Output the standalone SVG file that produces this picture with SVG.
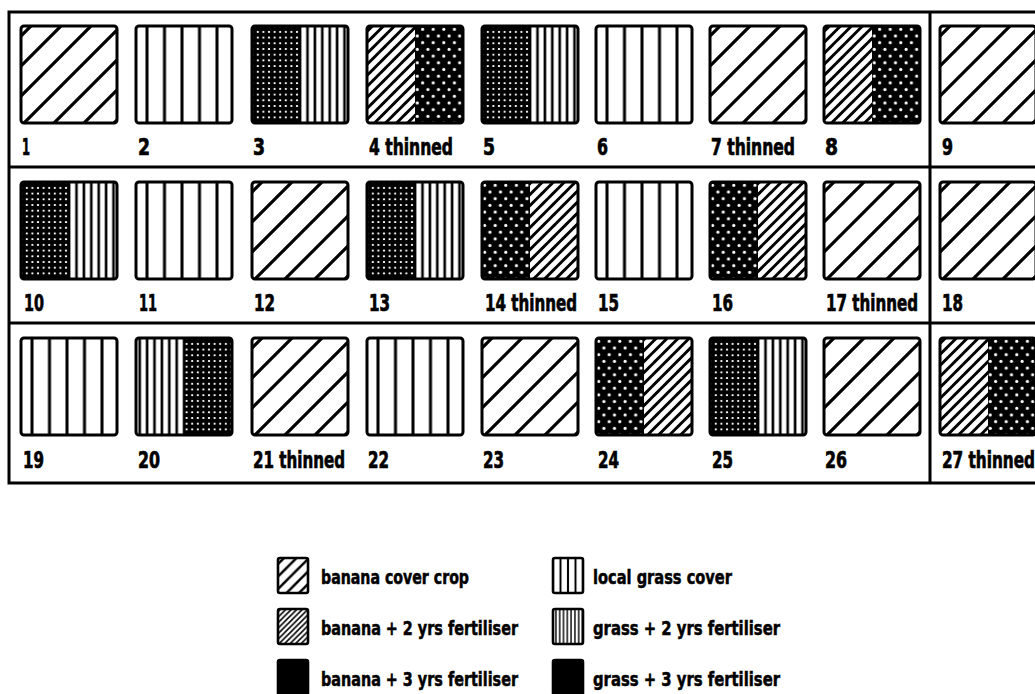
<svg xmlns="http://www.w3.org/2000/svg" width="1035" height="694" viewBox="0 0 1035 694">
<style>
.box{fill:none;stroke:#000;stroke-width:3;}
.lbox{fill:none;stroke:#000;stroke-width:2.6;}
.frame{fill:none;stroke:#000;stroke-width:3;}
.lab{font-family:"DejaVu Sans Condensed","DejaVu Sans",sans-serif;font-weight:bold;font-size:23px;fill:#000;stroke:#000;stroke-width:0.7px;}
.leg{font-family:"DejaVu Sans Condensed","DejaVu Sans",sans-serif;font-weight:bold;font-size:19px;fill:#000;stroke:#000;stroke-width:0.5px;}
</style>
<defs>
<pattern id="pB" patternUnits="userSpaceOnUse" width="30" height="30">
<path d="M-4,14 L14,-4 M-4,44 L44,-4" stroke="#000" stroke-width="3.2"/>
</pattern>
<pattern id="pB2" patternUnits="userSpaceOnUse" width="11" height="11">
<path d="M-3,8.5 L8.5,-3 M-3,19.5 L19.5,-3" stroke="#000" stroke-width="3"/>
</pattern>
<pattern id="pB3" patternUnits="userSpaceOnUse" width="10.6" height="13.4">
<rect width="10.6" height="13.4" fill="#000"/>
<circle cx="2.6" cy="3.3" r="1.6" fill="#fff"/>
<circle cx="7.9" cy="10" r="1.6" fill="#fff"/>
</pattern>
<pattern id="pG" patternUnits="userSpaceOnUse" x="2.25" width="17.5" height="20">
<rect x="7.25" width="3" height="20" fill="#000"/>
</pattern>
<pattern id="pG2" patternUnits="userSpaceOnUse" width="7.4" height="10">
<rect x="2.4" width="2.6" height="10" fill="#000"/>
</pattern>
<pattern id="pG3" patternUnits="userSpaceOnUse" x="3" y="3" width="5.6" height="5.7">
<rect width="5.6" height="5.7" fill="#000"/>
<rect x="1.8" y="2" width="2" height="1.8" fill="#fff"/>
</pattern>
<pattern id="pLB" patternUnits="userSpaceOnUse" width="12.5" height="12.5">
<path d="M-3,9 L9,-3 M-3,21.5 L21.5,-3" stroke="#000" stroke-width="2.5"/>
</pattern>
<pattern id="pLB2" patternUnits="userSpaceOnUse" width="5.5" height="5.5">
<path d="M-2,4.75 L4.75,-2 M-2,10.25 L10.25,-2" stroke="#000" stroke-width="1.6"/>
</pattern>
<pattern id="pLG" patternUnits="userSpaceOnUse" x="3.75" width="7.5" height="10">
<rect x="2.75" width="2" height="10" fill="#000"/>
</pattern>
<pattern id="pLG2" patternUnits="userSpaceOnUse" x="1" width="3.8" height="10">
<rect x="1.2" width="1.4" height="10" fill="#000"/>
</pattern>
</defs>
<rect width="1035" height="694" fill="#fff"/>

<g id="frame">
<path class="frame" d="M1045,12 H9 V483 H1045 M9,167 H1045 M9,323 H1045 M930,12 V483"/>
</g>

<!-- Row 1 -->
<g id="cell-1" transform="translate(21,26)">
<rect width="96" height="97" fill="url(#pB)"/>
<rect class="box" width="96" height="97" rx="3"/>
<text class="lab" x="1" y="129" textLength="8" lengthAdjust="spacingAndGlyphs">1</text>
</g>
<g id="cell-2" transform="translate(136,26)">
<rect width="96" height="97" fill="url(#pG)"/>
<rect class="box" width="96" height="97" rx="3"/>
<text class="lab" x="2" y="129" textLength="12" lengthAdjust="spacingAndGlyphs">2</text>
</g>
<g id="cell-3" transform="translate(252,26)">
<rect width="48" height="97" fill="url(#pG3)"/>
<rect x="48" width="48" height="97" fill="url(#pG2)"/>
<rect class="box" width="96" height="97" rx="3"/>
<text class="lab" x="1" y="129" textLength="12" lengthAdjust="spacingAndGlyphs">3</text>
</g>
<g id="cell-4" transform="translate(367,26)">
<rect width="48" height="97" fill="url(#pB2)"/>
<rect x="48" width="48" height="97" fill="url(#pB3)"/>
<rect class="box" width="96" height="97" rx="3"/>
<text class="lab" x="2" y="129" textLength="84" lengthAdjust="spacingAndGlyphs">4 thinned</text>
</g>
<g id="cell-5" transform="translate(482,26)">
<rect width="48" height="97" fill="url(#pG3)"/>
<rect x="48" width="48" height="97" fill="url(#pG2)"/>
<rect class="box" width="96" height="97" rx="3"/>
<text class="lab" x="1" y="129" textLength="12" lengthAdjust="spacingAndGlyphs">5</text>
</g>
<g id="cell-6" transform="translate(596,26)">
<rect width="96" height="97" fill="url(#pG)"/>
<rect class="box" width="96" height="97" rx="3"/>
<text class="lab" x="1" y="129" textLength="11" lengthAdjust="spacingAndGlyphs">6</text>
</g>
<g id="cell-7" transform="translate(710,26)">
<rect width="96" height="97" fill="url(#pB)"/>
<rect class="box" width="96" height="97" rx="3"/>
<text class="lab" x="1" y="129" textLength="84" lengthAdjust="spacingAndGlyphs">7 thinned</text>
</g>
<g id="cell-8" transform="translate(824,26)">
<rect width="48" height="97" fill="url(#pB2)"/>
<rect x="48" width="48" height="97" fill="url(#pB3)"/>
<rect class="box" width="96" height="97" rx="3"/>
<text class="lab" x="1" y="129" textLength="13" lengthAdjust="spacingAndGlyphs">8</text>
</g>
<g id="cell-9" transform="translate(940,26)">
<rect width="96" height="97" fill="url(#pB)"/>
<rect class="box" width="96" height="97" rx="3"/>
<text class="lab" x="2" y="129" textLength="11" lengthAdjust="spacingAndGlyphs">9</text>
</g>

<!-- Row 2 -->
<g id="cell-10" transform="translate(21,182)">
<rect width="48" height="97" fill="url(#pG3)"/>
<rect x="48" width="48" height="97" fill="url(#pG2)"/>
<rect class="box" width="96" height="97" rx="3"/>
<text class="lab" x="3" y="129" textLength="20" lengthAdjust="spacingAndGlyphs">10</text>
</g>
<g id="cell-11" transform="translate(136,182)">
<rect width="96" height="97" fill="url(#pG)"/>
<rect class="box" width="96" height="97" rx="3"/>
<text class="lab" x="3" y="129" textLength="18" lengthAdjust="spacingAndGlyphs">11</text>
</g>
<g id="cell-12" transform="translate(252,182)">
<rect width="96" height="97" fill="url(#pB)"/>
<rect class="box" width="96" height="97" rx="3"/>
<text class="lab" x="2" y="129" textLength="21" lengthAdjust="spacingAndGlyphs">12</text>
</g>
<g id="cell-13" transform="translate(367,182)">
<rect width="48" height="97" fill="url(#pG3)"/>
<rect x="48" width="48" height="97" fill="url(#pG2)"/>
<rect class="box" width="96" height="97" rx="3"/>
<text class="lab" x="2" y="129" textLength="21" lengthAdjust="spacingAndGlyphs">13</text>
</g>
<g id="cell-14" transform="translate(482,182)">
<rect width="48" height="97" fill="url(#pB3)"/>
<rect x="48" width="48" height="97" fill="url(#pB2)"/>
<rect class="box" width="96" height="97" rx="3"/>
<text class="lab" x="3" y="129" textLength="92" lengthAdjust="spacingAndGlyphs">14 thinned</text>
</g>
<g id="cell-15" transform="translate(596,182)">
<rect width="96" height="97" fill="url(#pG)"/>
<rect class="box" width="96" height="97" rx="3"/>
<text class="lab" x="2" y="129" textLength="21" lengthAdjust="spacingAndGlyphs">15</text>
</g>
<g id="cell-16" transform="translate(710,182)">
<rect width="48" height="97" fill="url(#pB3)"/>
<rect x="48" width="48" height="97" fill="url(#pB2)"/>
<rect class="box" width="96" height="97" rx="3"/>
<text class="lab" x="2" y="129" textLength="21" lengthAdjust="spacingAndGlyphs">16</text>
</g>
<g id="cell-17" transform="translate(824,182)">
<rect width="96" height="97" fill="url(#pB)"/>
<rect class="box" width="96" height="97" rx="3"/>
<text class="lab" x="2" y="129" textLength="92" lengthAdjust="spacingAndGlyphs">17 thinned</text>
</g>
<g id="cell-18" transform="translate(940,182)">
<rect width="96" height="97" fill="url(#pB)"/>
<rect class="box" width="96" height="97" rx="3"/>
<text class="lab" x="2" y="129" textLength="21" lengthAdjust="spacingAndGlyphs">18</text>
</g>

<!-- Row 3 -->
<g id="cell-19" transform="translate(21,338)">
<rect width="96" height="97" fill="url(#pG)"/>
<rect class="box" width="96" height="97" rx="3"/>
<text class="lab" x="2" y="130" textLength="21" lengthAdjust="spacingAndGlyphs">19</text>
</g>
<g id="cell-20" transform="translate(136,338)">
<rect width="48" height="97" fill="url(#pG2)"/>
<rect x="48" width="48" height="97" fill="url(#pG3)"/>
<rect class="box" width="96" height="97" rx="3"/>
<text class="lab" x="2" y="130" textLength="22" lengthAdjust="spacingAndGlyphs">20</text>
</g>
<g id="cell-21" transform="translate(252,338)">
<rect width="96" height="97" fill="url(#pB)"/>
<rect class="box" width="96" height="97" rx="3"/>
<text class="lab" x="1" y="130" textLength="92" lengthAdjust="spacingAndGlyphs">21 thinned</text>
</g>
<g id="cell-22" transform="translate(367,338)">
<rect width="96" height="97" fill="url(#pG)"/>
<rect class="box" width="96" height="97" rx="3"/>
<text class="lab" x="1" y="130" textLength="21" lengthAdjust="spacingAndGlyphs">22</text>
</g>
<g id="cell-23" transform="translate(482,338)">
<rect width="96" height="97" fill="url(#pB)"/>
<rect class="box" width="96" height="97" rx="3"/>
<text class="lab" x="1" y="130" textLength="21" lengthAdjust="spacingAndGlyphs">23</text>
</g>
<g id="cell-24" transform="translate(596,338)">
<rect width="48" height="97" fill="url(#pB3)"/>
<rect x="48" width="48" height="97" fill="url(#pB2)"/>
<rect class="box" width="96" height="97" rx="3"/>
<text class="lab" x="2" y="130" textLength="21" lengthAdjust="spacingAndGlyphs">24</text>
</g>
<g id="cell-25" transform="translate(710,338)">
<rect width="48" height="97" fill="url(#pG3)"/>
<rect x="48" width="48" height="97" fill="url(#pG2)"/>
<rect class="box" width="96" height="97" rx="3"/>
<text class="lab" x="2" y="130" textLength="21" lengthAdjust="spacingAndGlyphs">25</text>
</g>
<g id="cell-26" transform="translate(824,338)">
<rect width="96" height="97" fill="url(#pB)"/>
<rect class="box" width="96" height="97" rx="3"/>
<text class="lab" x="1" y="130" textLength="22" lengthAdjust="spacingAndGlyphs">26</text>
</g>
<g id="cell-27" transform="translate(940,338)">
<rect width="48" height="97" fill="url(#pB2)"/>
<rect x="48" width="48" height="97" fill="url(#pB3)"/>
<rect class="box" width="96" height="97" rx="3"/>
<text class="lab" x="2" y="130" textLength="93" lengthAdjust="spacingAndGlyphs">27 thinned</text>
</g>

<!-- Legend -->
<g id="legend-banana" transform="translate(278,558)">
<rect width="30" height="35" fill="url(#pLB)"/>
<rect class="lbox" width="30" height="35" rx="2"/>
<text class="leg" x="43" y="26" textLength="148" lengthAdjust="spacingAndGlyphs">banana cover crop</text>
</g>
<g id="legend-banana2" transform="translate(278,609)">
<rect width="30" height="35" fill="url(#pLB2)"/>
<rect class="lbox" width="30" height="35" rx="2"/>
<text class="leg" x="43" y="26" textLength="197" lengthAdjust="spacingAndGlyphs">banana + 2 yrs fertiliser</text>
</g>
<g id="legend-banana3" transform="translate(278,660)">
<rect width="30" height="35" fill="#000"/>
<rect class="lbox" width="30" height="35" rx="2"/>
<text class="leg" x="43" y="26" textLength="197" lengthAdjust="spacingAndGlyphs">banana + 3 yrs fertiliser</text>
</g>
<g id="legend-grass" transform="translate(553,558)">
<rect width="30" height="35" fill="url(#pLG)"/>
<rect class="lbox" width="30" height="35" rx="2"/>
<text class="leg" x="40" y="26" textLength="139" lengthAdjust="spacingAndGlyphs">local grass cover</text>
</g>
<g id="legend-grass2" transform="translate(553,609)">
<rect width="30" height="35" fill="url(#pLG2)"/>
<rect class="lbox" width="30" height="35" rx="2"/>
<text class="leg" x="40" y="26" textLength="187" lengthAdjust="spacingAndGlyphs">grass + 2 yrs fertiliser</text>
</g>
<g id="legend-grass3" transform="translate(553,660)">
<rect width="30" height="35" fill="#000"/>
<rect class="lbox" width="30" height="35" rx="2"/>
<text class="leg" x="40" y="26" textLength="187" lengthAdjust="spacingAndGlyphs">grass + 3 yrs fertiliser</text>
</g>
</svg>
